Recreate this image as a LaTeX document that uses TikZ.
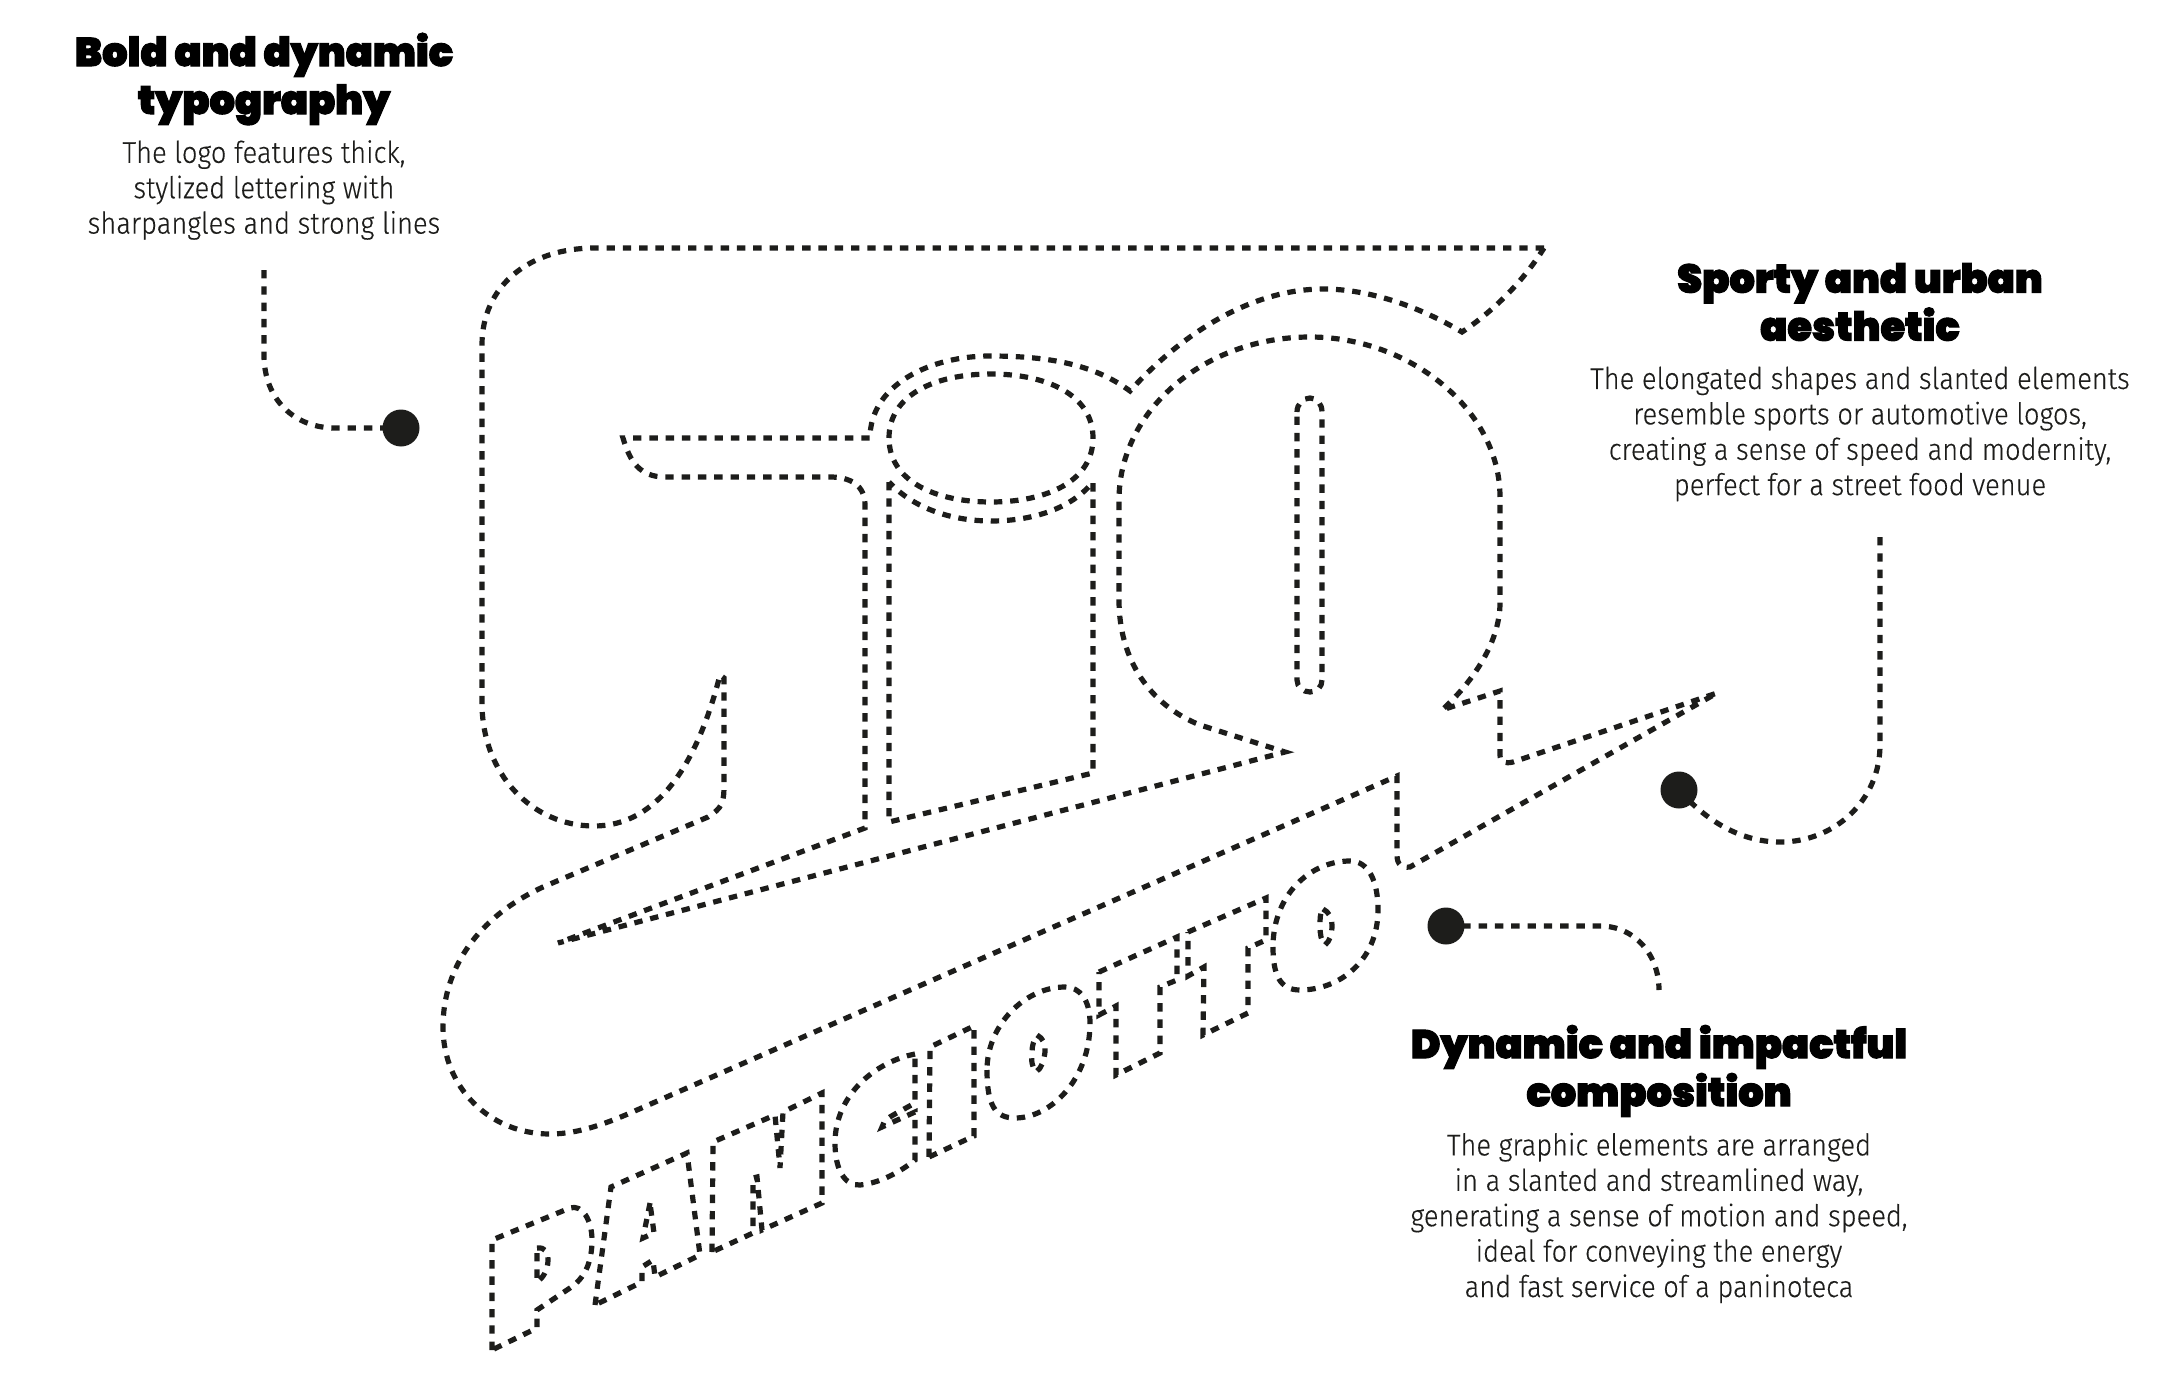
\documentclass[tikz,border=0pt]{standalone}
\usepackage{fontspec}
\setmainfont[FakeStretch=0.91,FakeBold=0.25]{Fira Sans Light}
\newfontfamily\headfont[FakeBold=2.5]{Poppins Black}
\definecolor{ink}{HTML}{1D1D1B}
\tikzset{
  dashline/.style={draw=ink,line width=2.6pt,dash pattern=on 4.2pt off 3.95pt,line join=miter,miter limit=8},
  bullet/.style={circle,fill=ink,minimum size=18.5pt,inner sep=0pt},
  headtext/.style={align=center,text=black,font=\headfont\fontsize{20}{24}\selectfont},
  bodytext/.style={align=center,text=ink,font=\fontsize{15}{17.7}\selectfont}
}
\begin{document}
\begin{tikzpicture}[x=0.5pt,y=-0.5pt]
\useasboundingbox (0,0) rectangle (2160,1386);
% main outline
\path[dashline] (1544,248) -- (595,248) .. controls (530,248) and (482,285) .. (482,345)
 -- (482,703) .. controls (482,775) and (533,826) .. (594,826)
 .. controls (657,826) and (697,765) .. (720,675) -- (724,678) -- (724,785)
 .. controls (724,803) and (722,808) .. (708,817) -- (543,887)
 .. controls (478,917) and (443,968) .. (443,1027)
 .. controls (443,1088) and (490,1134) .. (550,1134)
 .. controls (580,1134) and (610,1122) .. (637,1110)
 -- (1397,776) -- (1397,855) .. controls (1397,865) and (1402,868) .. (1410,867)
 -- (1717,693) -- (1513,762) .. controls (1505,764) and (1500,762) .. (1500,755)
 -- (1500,691) -- (1442,710)
 .. controls (1475,680) and (1500,640) .. (1500,603) -- (1500,497)
 .. controls (1500,410) and (1410,337) .. (1310,337)
 .. controls (1205,337) and (1119,410) .. (1119,500) -- (1119,600)
 .. controls (1119,660) and (1150,705) .. (1200,725) -- (1285,752)
 -- (558,943) -- (865,828) -- (865,505)
 .. controls (865,485) and (850,477) .. (830,477) -- (665,477)
 .. controls (640,477) and (630,462) .. (623,438) -- (870,438)
 .. controls (870,385) and (930,356) .. (990,356)
 .. controls (1050,356) and (1095,365) .. (1130,391)
 .. controls (1185,330) and (1255,289) .. (1323,289)
 .. controls (1370,289) and (1420,307) .. (1462,332)
 .. controls (1495,310) and (1524,280) .. cycle;
% inner ellipse
\path[dashline] (889,438) .. controls (889,395) and (935,374) .. (991,374)
 .. controls (1047,374) and (1093,395) .. (1093,438)
 .. controls (1093,481) and (1047,502) .. (991,502)
 .. controls (935,502) and (889,481) .. cycle;
% column
\path[dashline] (889,482) -- (889,822) -- (1093,773) -- (1093,482)
 .. controls (1070,510) and (1030,521) .. (991,521)
 .. controls (955,521) and (915,510) .. cycle;
% Q slot
\path[dashline] (1297,412) .. controls (1297,404) and (1303,398) .. (1310,398)
 .. controls (1317,398) and (1322,404) .. (1322,412) -- (1322,680)
 .. controls (1322,687) and (1317,692) .. (1310,692)
 .. controls (1303,692) and (1297,687) .. (1297,680) -- cycle;
% P
\path[dashline] (492,1350) -- (492,1240) -- (570,1208)
 .. controls (582,1204) and (592,1220) .. (592,1240)
 .. controls (592,1262) and (585,1278) .. (570,1288) -- (537,1310) -- (537,1328) -- cycle;
\path[dashline] (537,1248) .. controls (545,1247) and (548,1252) .. (548,1260)
 .. controls (548,1270) and (543,1278) .. (537,1282) -- cycle;
% A
\path[dashline] (595,1305) -- (611,1187) -- (687,1153) -- (700,1255) -- (655,1277)
 -- (653,1260) -- (642,1267) -- (642,1282) -- cycle;
\path[dashline] (650,1203) -- (643,1238) -- (654,1233) -- cycle;
% N
\path[dashline] (712,1252) -- (713,1142) -- (775,1115) -- (780,1168) -- (783,1112)
 -- (822,1093) -- (822,1203) -- (762,1230) -- (757,1177) -- (753,1178) -- (753,1233) -- cycle;
% C
\path[dashline] (915,1054) .. controls (875,1062) and (835,1095) .. (835,1143)
 .. controls (835,1170) and (845,1186) .. (860,1185)
 .. controls (880,1183) and (900,1172) .. (915,1160) -- (915,1112) -- (882,1127)
 .. controls (884,1120) and (888,1118) .. (895,1114) -- (915,1103) -- cycle;
% I
\path[dashline] (929,1157) -- (930,1047) -- (974,1026) -- (974,1136) -- cycle;
% O1
\path[dashline] (987,1070) .. controls (987,1105) and (995,1118) .. (1015,1118)
 .. controls (1050,1118) and (1090,1080) .. (1090,1023)
 .. controls (1090,1000) and (1080,987) .. (1065,987)
 .. controls (1025,987) and (987,1025) .. cycle;
\path[dashline] (1037,1035) .. controls (1043,1038) and (1046,1045) .. (1045,1052)
 .. controls (1044,1060) and (1042,1068) .. (1036,1072)
 .. controls (1032,1068) and (1031,1060) .. (1032,1052)
 .. controls (1032,1045) and (1034,1040) .. cycle;
% T1
\path[dashline] (1099,972) -- (1177,937) -- (1177,980) -- (1160,987) -- (1160,1053)
 -- (1116,1075) -- (1116,1006) -- (1099,1015) -- cycle;
% T2
\path[dashline] (1188,932) -- (1266,898) -- (1266,940) -- (1248,948) -- (1248,1013)
 -- (1203,1035) -- (1204,967) -- (1188,976) -- cycle;
% O2
\path[dashline] (1273,947) .. controls (1273,975) and (1280,990) .. (1300,990)
 .. controls (1340,990) and (1378,960) .. (1378,910)
 .. controls (1378,880) and (1368,861) .. (1350,861)
 .. controls (1310,861) and (1273,895) .. cycle;
\path[dashline] (1323,909) .. controls (1329,912) and (1332,918) .. (1332,925)
 .. controls (1332,934) and (1330,941) .. (1325,945)
 .. controls (1321,941) and (1320,934) .. (1320,926)
 .. controls (1320,918) and (1320,913) .. cycle;
% bullets and connectors
\node[bullet] (b1) at (401,428) {};
\node[bullet] (b2) at (1679,790) {};
\node[bullet] (b3) at (1446,926) {};
\coordinate (c1) at (264,270);
\coordinate (c2) at (1880,537);
\coordinate (c3) at (1659,990);
\draw[dashline] (c1) -- (264,355) .. controls (264,400) and (295,428) .. (335,428) -- (b1.center);
\draw[dashline] (c2) -- (1880,745) .. controls (1880,800) and (1835,842) .. (1780,842)
 .. controls (1745,842) and (1710,825) .. (b2.center);
\draw[dashline] (b3.center) -- (1600,926) .. controls (1635,926) and (1659,955) .. (c3);
% texts
\node[headtext] (h1) at (264,79) {Bold and dynamic\\typography};
\node[bodytext] (t1) at (264,190) {The logo features thick,\\stylized lettering with\\sharpangles and strong lines};
\node[headtext] (h2) at (1860,302) {Sporty and urban\\aesthetic};
\node[bodytext] (t2) at (1860,434) {The elongated shapes and slanted elements\\resemble sports or automotive logos,\\creating a sense of speed and modernity,\\perfect for a street food venue};
\node[headtext] (h3) at (1659,1071) {Dynamic and impactful\\composition};
\node[bodytext] (t3) at (1659,1218) {The graphic elements are arranged\\in a slanted and streamlined way,\\generating a sense of motion and speed,\\ideal for conveying the energy\\and fast service of a paninoteca};
\end{tikzpicture}
\end{document}
